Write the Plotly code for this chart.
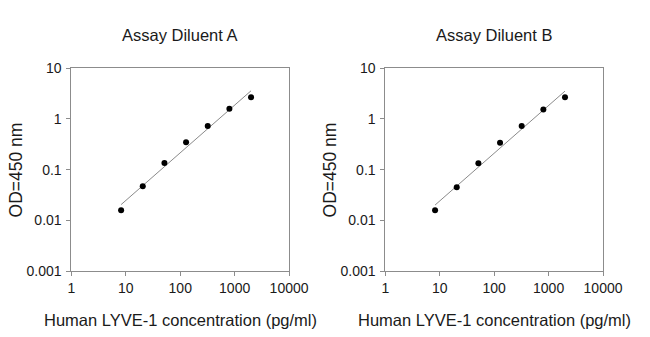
import numpy as np
import plotly.graph_objects as go

# ---- data ----
conc = [8.192, 20.48, 51.2, 128, 320, 800, 2000]
od_a = [0.0159, 0.047, 0.136, 0.348, 0.724, 1.58, 2.65]
od_b = [0.0159, 0.045, 0.134, 0.34, 0.72, 1.52, 2.65]
titles = ["Assay Diluent A", "Assay Diluent B"]
x_title = "Human LYVE-1 concentration (pg/ml)"
y_title = "OD=450 nm"
x_ticks = [1, 10, 100, 1000, 10000]
x_ticktext = ["1", "10", "100", "1000", "10000"]
y_ticks = [0.001, 0.01, 0.1, 1, 10]
y_ticktext = ["0.001", "0.01", "0.1", "1", "10"]

W, H = 650, 337
FONT = "Liberation Sans, Arial, sans-serif"
AXC = "#8c8c8c"
TXT = "#1a1a1a"

panels = [
    dict(x0=70, x1=296, y0=63, y1=276.5, data=od_a),
    dict(x0=396, x1=622, y0=63, y1=276.5, data=od_b),
]

fig = go.Figure()
annotations = []
for i, p in enumerate(panels):
    n = "" if i == 0 else str(i + 1)
    xa, ya = "x" + n, "y" + n
    # log-log linear fit
    lx = np.log10(conc)
    ly = np.log10(p["data"])
    b, a = np.polyfit(lx, ly, 1)
    fx = [conc[0], conc[-1]]
    fy = [10 ** (a + b * np.log10(v)) for v in fx]
    fig.add_trace(go.Scatter(x=fx, y=fy, mode="lines",
                             line=dict(color="#8a8a8a", width=1),
                             xaxis=xa, yaxis=ya, showlegend=False, hoverinfo="skip"))
    fig.add_trace(go.Scatter(x=conc, y=p["data"], mode="markers",
                             marker=dict(color="black", size=6),
                             xaxis=xa, yaxis=ya, showlegend=False))
    axis_common = dict(showgrid=False, zeroline=False, showline=True, linecolor=AXC,
                       linewidth=1, mirror=True, ticks="outside", ticklen=4,
                       tickcolor=AXC, tickwidth=1,
                       tickfont=dict(family=FONT, size=14, color=TXT))
    fig.update_layout(**{
        "xaxis" + n: dict(type="log", range=[0, 4],
                          domain=[p["x0"] / W, p["x1"] / W],
                          anchor=ya, tickvals=x_ticks, ticktext=x_ticktext,
                          **axis_common),
        "yaxis" + n: dict(type="log", range=[-3, 1],
                          domain=[(H - p["y1"]) / H, (H - p["y0"]) / H],
                          anchor=xa, tickvals=y_ticks, ticktext=y_ticktext,
                          ticklabelstandoff=2,
                          **axis_common),
    })
    cx = (p["x0"] + p["x1"]) / 2
    annotations.append(dict(text=titles[i], x=cx / W, y=1 - 28 / H, xref="paper", yref="paper",
                            xanchor="center", yanchor="middle", showarrow=False,
                            font=dict(family=FONT, size=16.5, color=TXT)))
    annotations.append(dict(text=x_title, x=cx / W, y=1 - 328 / H, xref="paper", yref="paper",
                            xanchor="center", yanchor="middle", showarrow=False,
                            font=dict(family=FONT, size=16.5, color=TXT)))
    annotations.append(dict(text=y_title, x=(p["x0"] - 58) / W, y=1 - 170 / H,
                            xref="paper", yref="paper", textangle=-90,
                            xanchor="center", yanchor="middle", showarrow=False,
                            font=dict(family=FONT, size=17.5, color=TXT)))

fig.update_layout(width=W, height=H, margin=dict(l=0, r=0, t=0, b=0),
                  paper_bgcolor="white", plot_bgcolor="white",
                  annotations=annotations)
fig.write_html("out.html")
